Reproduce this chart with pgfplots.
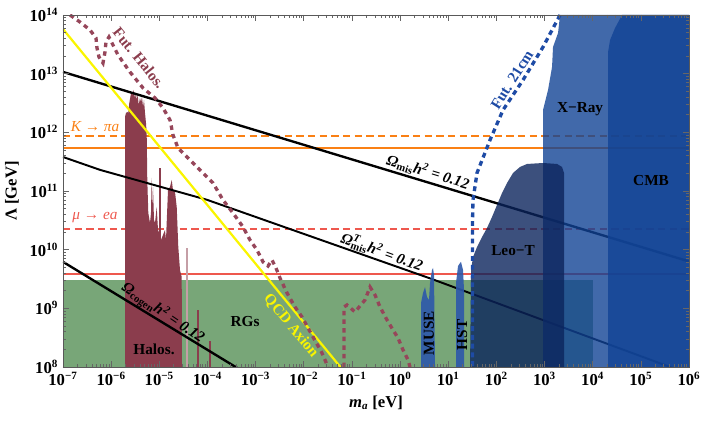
\documentclass[border=0pt]{standalone}
\usepackage{fontspec}
\setmainfont{Liberation Serif}
\usepackage{pgfplots}
\pgfplotsset{compat=1.18}
\definecolor{myorange}{RGB}{250,128,20}
\definecolor{myred}{RGB}{238,88,78}
\definecolor{myyellow}{RGB}{250,245,0}
\definecolor{maroon}{RGB}{139,61,77}
\definecolor{maroonl}{RGB}{150,70,90}
\definecolor{rggreen}{RGB}{120,166,120}
\definecolor{xblue}{RGB}{17,67,149}
\definecolor{leoblue}{RGB}{11,36,92}
\definecolor{museblue}{RGB}{45,88,170}
\definecolor{dotblue}{RGB}{30,75,165}
\begin{document}
\begin{tikzpicture}
\useasboundingbox (-45.36pt,-38.88pt) rectangle (463.68pt,264.24pt);
\begin{axis}[
  at={(0,0)}, anchor=south west, scale only axis,
  width=450.72pt, height=253.44pt,
  xmode=log, ymode=log, xmin=1e-7, xmax=1e6, ymin=1e8, ymax=1e14,
  axis on top,
  xtick={1e-7,1e-6,1e-5,1e-4,1e-3,1e-2,1e-1,1,1e1,1e2,1e3,1e4,1e5,1e6},
  xticklabels={10\textsuperscript{−7},10\textsuperscript{−6},10\textsuperscript{−5},10\textsuperscript{−4},10\textsuperscript{−3},10\textsuperscript{−2},10\textsuperscript{−1},10\textsuperscript{0},10\textsuperscript{1},10\textsuperscript{2},10\textsuperscript{3},10\textsuperscript{4},10\textsuperscript{5},10\textsuperscript{6}},
  ytick={1e8,1e9,1e10,1e11,1e12,1e13,1e14},
  yticklabels={10\textsuperscript{8},10\textsuperscript{9},10\textsuperscript{10},10\textsuperscript{11},10\textsuperscript{12},10\textsuperscript{13},10\textsuperscript{14}},
  tick label style={font=\fontsize{12}{14}\selectfont\bfseries},
  major tick length=4.3pt, minor tick length=2.2pt,
  tick style={black!60, line width=0.5pt},
  axis line style={black!65, line width=0.6pt},
  every axis y label/.style={at={(axis description cs:-0.0814,0.5)}, rotate=90, anchor=center},
  every axis x label/.style={at={(axis description cs:0.5,-0.1023)}, anchor=center},
  xlabel={\fontsize{12}{14}\selectfont\bfseries\itshape m\textsubscript{a} \upshape[eV]},
  ylabel={\fontsize{12}{14}\selectfont\bfseries Λ [GeV]},
]
% RGs
\addplot[draw=none, fill=rggreen] coordinates {(1e-7,1e8) (1e-7,3.04e9) (1e4,3.04e9) (1e4,1e8)} -- cycle;
% orange and red lines
\addplot[myorange, line width=1.6pt] coordinates {(1e-7,5.47e11) (1e6,5.47e11)};
\addplot[myorange, line width=1.6pt, dash pattern=on 5.3pt off 3.1pt] coordinates {(1e-7,8.7e11) (1e6,8.7e11)};
\addplot[myred, line width=1.6pt] coordinates {(1e-7,3.8e9) (1e6,3.8e9)};
\addplot[myred, line width=1.6pt, dash pattern=on 5.3pt off 3.1pt] coordinates {(1e-7,2.25e10) (1e6,2.25e10)};
% Halos
\addplot[draw=none, fill=maroon] coordinates {(1.94e-6,1e8) (1.94e-6,1.826e12) (2.034e-6,2.14e12) (2.165e-6,2.22e12) (2.27e-6,2.14e12) (2.38e-6,3.16e12) (2.547e-6,4.33e12) (2.671e-6,4.87e12) (2.80e-6,4.33e12) (2.884e-6,5.27e12) (2.982e-6,4.68e12) (3.13e-6,3.85e12) (3.28e-6,4.68e12) (3.393e-6,3.56e12) (3.56e-6,4.33e12) (3.734e-6,2.92e12) (3.97e-6,3.85e12) (4.17e-6,3.29e12) (4.37e-6,4.0e12) (4.59e-6,2.70e12) (4.81e-6,3.56e12) (5.05e-6,2.14e12) (5.29e-6,1.443e12) (5.47e-6,9.74e11) (5.63e-6,1.541e11) (5.91e-6,4.22e10) (6.41e-6,2.85e10) (6.72e-6,4.22e10) (6.95e-6,1.666e11) (7.22e-6,4.22e10) (7.40e-6,1.171e11) (7.76e-6,3.21e10) (8.14e-6,2.85e10) (8.83e-6,5.34e10) (9.40e-6,2.165e10) (1.034e-5,1.779e10) (1.085e-5,1.462e10) (1.193e-5,1.779e10) (1.313e-5,2.165e10) (1.377e-5,1.462e10) (1.516e-5,1.04e11) (1.668e-5,1.171e11) (1.81e-5,1.541e11) (1.925e-5,1.04e11) (2.12e-5,9.62e10) (2.30e-5,5.34e10) (2.48e-5,1.111e10) (2.69e-5,4.50e9) (2.92e-5,3.42e9) (2.96e-5,1e8)} -- cycle;
\addplot[maroon, line width=0.9pt] coordinates {(1.04e-5,1e8) (1.04e-5,2.47e11)};
\addplot[maroon!50, line width=0.9pt] coordinates {(3.76e-5,1e8) (3.76e-5,1.068e10)};
\addplot[maroon, line width=1.2pt] coordinates {(6.37e-5,1e8) (6.37e-5,9.37e8)};
\addplot[maroon, line width=1.2pt] coordinates {(1.13e-4,1e8) (1.13e-4,2.78e8)};
% relic lines
\addplot[black, line width=1.7pt] coordinates {(1e-7,1.07e13) (1e6,6.3e9)};
\addplot[black, line width=1.4pt] coordinates {(1e-7,3.8e11) (5.89e-7,2.29e11) (9.77e-5,7.08e10) (4.57,3.16e9) (28.2,1.82e9) (1e6,7.6e7)};
\addplot[black, line width=1.7pt] coordinates {(1e-7,6.2e9) (1e-3,6.2e7)};
\addplot[myyellow, line width=1.6pt] coordinates {(1e-7,5.75e13) (0.1,5.75e7)};
% Fut. Halos
\addplot[maroonl, line width=2.4pt, dash pattern=on 3.2pt off 3pt] coordinates {(1.40e-7,1e14) (2.25e-7,7.60e13) (3.64e-7,5.55e13) (4.84e-7,4.06e13) (5.08e-7,2.74e13) (5.59e-7,1.924e13) (6.77e-7,1.52e13) (7.45e-7,2.34e13) (7.82e-7,3.47e13) (9.02e-7,4.22e13) (1.388e-6,2.08e13) (2.46e-6,1.068e13) (4.59e-6,5.70e12) (8.14e-6,3.85e12) (1.193e-5,2.60e12) (1.668e-5,1.623e12) (1.925e-5,9.01e11) (2.445e-5,5.41e11) (3.76e-5,3.80e11) (8.08e-5,2.03e11) (1.304e-4,1.369e11) (2.10e-4,7.03e10) (3.39e-4,4.22e10) (5.47e-4,2.44e10) (7.65e-4,1.462e10) (1.069e-3,9.87e9) (1.424e-3,6.17e9) (1.81e-3,5.27e9) (2.19e-3,6.67e9) (2.65e-3,4.87e9) (3.21e-3,3.29e9) (4.49e-3,1.827e9) (6.58e-3,1.054e9) (9.20e-3,7.12e8) (1.556e-2,3.25e8) (2.39e-2,1.734e8) (3.19e-2,1e8)};
\addplot[maroonl, line width=2.4pt, dash pattern=on 3.2pt off 3pt] coordinates {(6.85e-2,1e8) (6.85e-2,1.054e9) (7.91e-2,1.14e9) (0.116,8.67e8) (0.187,1.388e9) (0.2376,2.31e9) (0.302,1.689e9) (0.3834,1.054e9) (0.536,6.33e8) (0.714,4.28e8) (0.907,3.12e8) (1.152,1.95e8) (1.462,1.317e8) (1.61,1e8)};
% MUSE, HST
\addplot[draw=none, fill=museblue, fill opacity=0.9] coordinates {(2.72,1e8) (2.72,1.234e9) (3.00,1.827e9) (3.30,2.31e9) (3.63,1.561e9) (3.99,1.388e9) (4.19,2.71e9) (4.61,4.50e9) (4.83,4.87e9) (5.07,3.70e9) (5.32,1e8)} -- cycle;
\addplot[draw=none, fill=museblue, fill opacity=0.9] coordinates {(14.52,1e8) (14.52,2.71e9) (15.98,5.27e9) (17.58,5.93e9) (18.44,6.17e9) (20.29,4.50e9) (21.29,2.055e9) (21.29,1e8)} -- cycle;
% X-Ray
\addplot[draw=none, fill=xblue, fill opacity=0.8] coordinates {(930.6,1e8) (930.6,2.40e12) (1182,5.27e12) (1432,1.30e13) (1501,2.85e13) (1907,4.93e13) (2099,1e14) (1e6,1e14) (1e6,1e8)} -- cycle;
% CMB
\addplot[draw=none, fill=xblue, fill opacity=0.8] coordinates {(2.084e4,1e8) (2.084e4,2.34e13) (2.293e4,3.75e13) (2.912e4,6.0e13) (4.07e4,1e14) (1e6,1e14) (1e6,1e8)} -- cycle;
% Leo-T
\addplot[draw=none, fill=leoblue, fill opacity=0.8] coordinates {(28.4,1e8) (29.8,4.50e9) (32.7,7.50e9) (39.6,1.111e10) (50.4,1.645e10) (63.9,2.34e10) (81.2,3.61e10) (103.1,5.78e10) (131.1,9.25e10) (166.4,1.369e11) (221.8,2.03e11) (309.8,2.57e11) (433,2.89e11) (930.6,3.0e11) (1818,2.89e11) (2309,2.57e11) (2541,2.03e11) (2541,1e8)} -- cycle;
% Fut. 21cm
\addplot[dotblue, line width=2.4pt, dash pattern=on 3.5pt off 2.8pt] coordinates {(2099,1e14) (931,2.85e13) (357.7,7.80e12) (137.4,2.40e12) (73.8,7.40e11) (39.6,2.03e11) (32.7,7.03e10) (31.97,3.21e10) (31.97,1e8)};
% labels
\begin{scope}[every node/.style={font=\fontsize{11}{13}\selectfont\bfseries, inner sep=0pt}]
\node[rotate=-51, text=maroon] at (axis cs:3.79e-6,1.85e13) {Fut. Halos.};
\node[text=myorange, font=\fontsize{11}{13}\selectfont\itshape] at (axis cs:4.62e-7,1.233e12) {K → πa};
\node[text=myred, font=\fontsize{11}{13}\selectfont\itshape] at (axis cs:4.62e-7,3.47e10) {μ → ea};
\node at (axis cs:7.76e-6,2.03e8) {Halos.};
\node at (axis cs:6.03e-4,5.85e8) {RGs};
\node[rotate=-50.6, text=myyellow] at (axis cs:5.43e-3,5.0e8) {QCD Axion};
\node[rotate=90] at (axis cs:3.99,3.8e8) {MUSE};
\node[rotate=90] at (axis cs:19.4,3.52e8) {HST};
\node at (axis cs:222,9.48e9) {Leo−T};
\node at (axis cs:5460,2.5e12) {X−Ray};
\node at (axis cs:1.63e5,1.48e11) {CMB};
\node[rotate=58, text=dotblue] at (axis cs:211,7.8e12) {Fut. 21cm};
\node[rotate=-17, font=\fontsize{11}{13}\selectfont\bfseries\itshape] at (axis cs:3.81,2.11e11) {Ω\textsubscript{\upshape mis}h\textsuperscript{2} = 0.12};
\node[rotate=-20, font=\fontsize{11}{13}\selectfont\bfseries\itshape] at (axis cs:0.422,9.12e9) {Ω\rlap{\textsuperscript{T}}\textsubscript{\upshape mis}h\textsuperscript{2} = 0.12};
\node[rotate=-34, font=\fontsize{11}{13}\selectfont\bfseries\itshape] at (axis cs:1.19e-5,8.34e8) {Ω\textsubscript{\upshape cogen}h\textsuperscript{2} = 0.12};
\end{scope}
\end{axis}
\end{tikzpicture}
\end{document}
